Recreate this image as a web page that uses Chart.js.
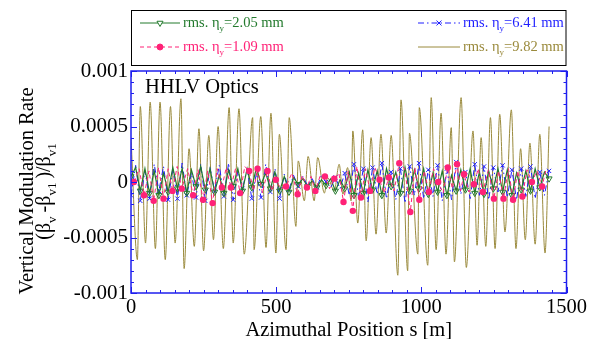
<!DOCTYPE html>
<html>
<head>
<meta charset="utf-8">
<script src="https://cdn.jsdelivr.net/npm/chart.js@4/dist/chart.umd.min.js"></script>
<style>
  html, body { margin: 0; padding: 0; background: #fff; }
  #wrap { width: 589px; height: 339px; }
</style>
</head>
<body>
<div id="wrap"><canvas id="chart" width="589" height="339"></canvas></div>
<script>
// values (s in m, modulation rate dimensionless)

// rms eta_y = 9.82 mm (olive)
const S_OLIVE = [
  0, 22, 32, 50, 66, 84, 100, 118, 136, 152, 172, 183, 200, 218, 234, 250, 268, 284, 300, 318,
  338, 352, 372, 390, 419, 424, 447, 465, 482, 499, 511, 534, 545, 568, 576, 597, 610, 631, 643, 666,
  677, 700, 717, 730, 746, 758, 764, 781, 798, 810, 827, 844, 861, 879, 896, 919, 930, 953, 959, 988,
  993, 1022, 1034, 1051, 1068, 1085, 1103, 1114, 1137, 1155, 1178, 1192, 1206, 1222, 1238, 1254, 1270, 1288, 1310, 1326,
  1342, 1358, 1374, 1392, 1408, 1426, 1440
];
const V_OLIVE = [
  0.0004, -0.0007, 0.00068, -0.00055, 0.00072, -0.0006, 0.00072, -0.0007, 0.00068, -0.00055, 0.00075, -0.00078, 0.0003, -0.00058, 0.00048, -0.00062, 0.00042, -0.00052, 0.0005, -0.0006,
  0.00067, -0.00055, 0.00066, -0.00065, 0.00058, -0.00061, 0.00059, -0.00059, 0.00062, -0.00064, 0.00043, -0.00061, 0.00058, -0.0004, 0.00019, -0.00017, 0.00023, -0.00017, 0.00022, -0.0001,
  0.00004, -0.00008, 0.00016, -0.00011, 0.00013, -0.00017, 0.00046, -0.00037, 0.00047, -0.00053, 0.0004, -0.00047, 0.00043, -0.00046, 0.00042, -0.00084, 0.00074, -0.0008, 0.00044, -0.00065,
  0.00067, -0.00075, 0.00076, -0.00061, 0.00062, -0.00065, 0.00049, -0.00072, 0.00076, -0.00077, 0.00046, -0.00057, 0.0004, -0.00058, 0.00058, -0.0006, 0.00061, -0.00045, 0.00065, -0.0006,
  0.0003, -0.00052, 0.00035, -0.00056, 0.00043, -0.00064, 0.0005
];

// rms eta_y = 1.09 mm (pink), markers on every other point
const S_PINK = [
  10, 28, 45, 62, 78, 95, 112, 128, 143, 159, 175, 195, 214, 231, 248, 264, 281, 297, 313, 328,
  344, 360, 376, 392, 407, 422, 436, 453, 470, 485, 499, 516, 534, 554, 574, 590, 606, 620, 635, 652,
  668, 684, 700, 716, 732, 748, 764, 778, 792, 808, 823, 840, 856, 872, 888, 906, 924, 943, 962, 978,
  993, 1010, 1026, 1042, 1058, 1075, 1091, 1107, 1123, 1135, 1147, 1164, 1181, 1196, 1212, 1231, 1250, 1266, 1283, 1300,
  1316, 1332, 1348, 1364, 1381, 1398, 1416, 1430
];
const V_PINK = [
  0, 0.00012, -0.00012, 0.0001, -0.00017, 0.00013, -0.00015, 0.00012, -0.00008, 0.00014, -0.00006, 0.00012, -0.00012, 0.00011, -0.00016, 0.0001, -0.00019, 0.00012, -0.00005, 0.00013,
  -0.00005, 0.00012, -0.0001, 0.00014, 0.0001, -0.00008, 0.00012, -0.0001, 0.0001, -0.00008, 0.00002, -0.00006, -0.00004, 0.00008, -0.00011, 0.00006, -0.00005, 0.00005, -0.00008, 0.00006,
  0.00005, -0.00006, 0.00003, 0.00008, -0.00018, 0.0001, -0.00026, 0.00014, -0.00014, 0.00012, -0.00008, 0.00013, 0.00002, -0.0001, 0.00004, -0.00008, 0.00017, 0.00012, -0.00027, 0.00013,
  -0.00016, 0.0001, -0.00009, 0.00012, 0, -0.0001, 0.00013, -0.00006, 0.00016, -0.00008, 0.00007, -0.00009, -0.00002, 0.00012, -0.00009, 0.00011, -0.00015, 0.0001, -0.00015, 0.00012,
  -0.00016, 0.0001, -0.00013, 0.00011, 0, 0.0001, -0.00004, 0.00012
];

// shared positions for the 2.05 mm and 6.41 mm runs
const S_SMALL = [
  0, 16, 32, 48, 64, 80, 96, 112, 128, 144, 160, 176, 192, 208, 224, 240, 256, 272, 288, 304,
  320, 336, 352, 368, 384, 400, 416, 432, 448, 464, 480, 496, 512, 528, 544, 560, 576, 592, 608, 624,
  640, 656, 672, 688, 704, 720, 736, 752, 768, 784, 800, 816, 832, 848, 864, 880, 896, 912, 928, 944,
  960, 976, 992, 1008, 1024, 1040, 1056, 1072, 1088, 1104, 1120, 1136, 1152, 1168, 1184, 1200, 1216, 1232, 1248, 1264,
  1280, 1296, 1312, 1328, 1344, 1360, 1376, 1392, 1408, 1424, 1440
];
// rms eta_y = 2.05 mm (green)
const V_GREEN = [
  0.00005, 0.00013, -0.00008, 0.00012, -0.0001, 0.0001, -0.00012, 0.00008, -0.00009, 0.00013, -0.00006, 0.00012, -0.0001, 0.00011, -0.00004, 0.00014, -0.00007, 0.00012, -0.00009, 0.00006,
  -0.0001, 0.00011, -0.00004, 0.00012, -0.00008, 0.00012, -0.00005, 0.00013, -0.00002, 0.00008, -0.00006, 0.00009, -0.00008, 0.00005, -0.00009, 0.00004, -0.00002, 0.00003, -0.00004, 0.00001,
  -0.00005, 0.00002, -0.00003, 0.00003, -0.00008, 0.00002, -0.00006, 0.00009, -0.00012, 0.00008, -0.0001, 0.00011, -0.00007, 0.0001, -0.00012, 0.00012, -0.00004, 0.00009, -0.0001, 0.00013,
  -0.00008, 0.00011, -0.00006, 0.00012, -0.00011, 0.00008, -0.00009, 0.0001, -0.00012, 0.00006, -0.00008, 0.00011, -0.00007, 0.00012, -0.0001, 0.00009, -0.00011, 0.0001, -0.00006, 0.00012,
  -0.00009, 0.00011, -0.00012, 0.00008, -0.00007, 0.0001, -0.00008, 0.00012, -0.00005, 0.00009, 0.00003
];
// rms eta_y = 6.41 mm (blue)
const V_BLUE = [
  -0.00012, 0.00015, -0.00017, 0.0001, -0.00015, 0.00016, -0.00008, 0.00014, -0.00016, 0.00012, -0.00015, 0.00017, -0.00012, 0.00008, -0.00014, 0.00016, -0.00017, 0.00013, -0.00008, 0.00015,
  -0.00013, 0.00017, -0.00016, 0.0001, -0.00006, 0.00012, -0.00015, 0.00008, -0.00014, 0.00016, -0.00009, 0.00012, -0.00015, 0.00007, -0.00007, 0.00006, -0.00004, 0.00005, -0.00003, 0.00003,
  -0.00005, 0.00006, 0, -0.00005, 0.00004, -0.00006, 0.00008, -0.00012, 0.00016, -0.00014, 0.00012, -0.00018, 0.00013, -0.00011, 0.00017, -0.00015, 0.00009, -0.00016, 0.00012, -0.00019,
  0.00014, -0.00012, 0.00017, -0.00015, 0.00011, -0.00013, 0.00015, -0.00017, 0.00012, -0.00016, 0.00018, -0.00011, 0.00009, -0.00015, 0.00016, -0.00012, 0.00014, -0.00016, 0.00013, -0.00009,
  0.00015, -0.00014, 0.00011, -0.00016, 0.00012, -0.00013, 0.00014, -0.00015, 0.00009, -0.00012, 0.0001
];

const X_TICKS = [0, 500, 1000, 1500];
const Y_TICKS = [-0.001, -0.0005, 0, 0.0005, 0.001];
const LEGEND = [
  { eta: '2.05', color: '#237a2d' },
  { eta: '1.09', color: '#ff2277' },
  { eta: '6.41', color: '#1f1fff' },
  { eta: '9.82', color: '#9a8a3c' }
];

const SERIF = '"Liberation Serif", "Times New Roman", serif';
const FRAME = '#1f1fee';
const toXY = (xs, ys) => xs.map((x, i) => ({ x, y: ys[i] }));
const everyOther = r => c => (c.dataIndex % 2 === 0 ? r : 0);

const framePlugin = {
  id: 'frame',
  afterDatasetsDraw(chart) {
    const { ctx, chartArea: a, scales: { x, y } } = chart;
    ctx.save();
    ctx.strokeStyle = FRAME;
    ctx.lineWidth = 1;
    ctx.beginPath();
    for (let v = 0; v <= 1500; v += 50) {
      const px = Math.round(x.getPixelForValue(v)) + 0.5;
      const len = v % 500 === 0 ? 6 : 3;
      ctx.moveTo(px, a.bottom); ctx.lineTo(px, a.bottom - len);
      ctx.moveTo(px, a.top); ctx.lineTo(px, a.top + len);
    }
    for (let i = -10; i <= 10; i++) {
      const py = Math.round(y.getPixelForValue(i * 0.0001)) + 0.5;
      const len = i % 5 === 0 ? 6 : 3;
      ctx.moveTo(a.left, py); ctx.lineTo(a.left + len, py);
      ctx.moveTo(a.right, py); ctx.lineTo(a.right - len, py);
    }
    ctx.stroke();
    ctx.lineWidth = 1.5;
    ctx.strokeRect(a.left, a.top, a.right - a.left, a.bottom - a.top);

    ctx.fillStyle = '#000';
    ctx.font = '20.5px ' + SERIF;
    ctx.textBaseline = 'alphabetic';
    ctx.fillText('HHLV Optics', 145, 93);
    ctx.restore();
  }
};

// pieces: [text, isSub, gapAfter]
function drawPieces(ctx, pieces, x, y, size, subScale) {
  let cx = x;
  for (const [t, sub, gap] of pieces) {
    ctx.font = (sub ? size * subScale : size) + 'px ' + SERIF;
    ctx.fillText(t, cx, sub ? y + size * 0.3 : y);
    cx += ctx.measureText(t).width + (gap || 0);
  }
  return cx - x;
}
function measurePieces(ctx, pieces, size, subScale) {
  let w = 0;
  for (const [t, sub, gap] of pieces) {
    ctx.font = (sub ? size * subScale : size) + 'px ' + SERIF;
    w += ctx.measureText(t).width + (gap || 0);
  }
  return w;
}

const decorPlugin = {
  id: 'decor',
  afterDraw(chart) {
    const { ctx, chartArea: a } = chart;
    ctx.save();
    // legend box
    ctx.strokeStyle = '#000';
    ctx.lineWidth = 1;
    ctx.strokeRect(a.left + 0.5, 10.5, a.right - a.left - 1, 55);

    const rows = [
      { item: LEGEND[0], x0: 140, x1: 180, tx: 183, y: 27, dash: [], pt: { pointStyle: 'triangle', rotation: 180, radius: 3.5, borderWidth: 1 }, fill: false },
      { item: LEGEND[1], x0: 140, x1: 180, tx: 183, y: 51, dash: [4, 3], pt: { pointStyle: 'circle', rotation: 0, radius: 3, borderWidth: 1 }, fill: true },
      { item: LEGEND[2], x0: 418, x1: 460, tx: 463, y: 27, dash: [6, 3, 1.5, 3], pt: { pointStyle: 'crossRot', rotation: 0, radius: 3.5, borderWidth: 1 }, fill: false },
      { item: LEGEND[3], x0: 418, x1: 460, tx: 463, y: 51, dash: [], pt: null, fill: false }
    ];
    for (const r of rows) {
      const ly = r.y - 4;
      ctx.strokeStyle = r.item.color;
      ctx.fillStyle = r.item.color;
      ctx.lineWidth = 1;
      ctx.setLineDash(r.dash);
      ctx.beginPath();
      ctx.moveTo(r.x0, ly); ctx.lineTo(r.x1, ly);
      ctx.stroke();
      ctx.setLineDash([]);
      if (r.pt) {
        ctx.fillStyle = r.fill ? r.item.color : '#fff';
        Chart.helpers.drawPoint(ctx, r.pt, (r.x0 + r.x1) / 2, ly);
      }
      ctx.fillStyle = r.item.color;
      ctx.textBaseline = 'alphabetic';
      drawPieces(ctx, [['rms. \u03b7', false], ['y', true], ['=' + r.item.eta + ' mm', false]], r.tx, r.y, 14.5, 0.62);
    }

    // y axis title, two rotated lines
    ctx.fillStyle = '#000';
    ctx.textBaseline = 'alphabetic';
    const line1 = [['Vertical Modulation Rate', false]];
    const line2 = [['(\u03b2', false], ['v', true, 4], ['-\u03b2', false], ['v1', true, 4], [')/\u03b2', false], ['v1', true]];
    const titleRows = [[line1, 33, 191, 20.5], [line2, 50, 191.5, 20]];
    for (const [pieces, bx, cy, size] of titleRows) {
      ctx.save();
      ctx.translate(bx, cy);
      ctx.rotate(-Math.PI / 2);
      const w = measurePieces(ctx, pieces, size, 0.65);
      drawPieces(ctx, pieces, -w / 2, 0, size, 0.65);
      ctx.restore();
    }
    ctx.restore();
  }
};

Chart.defaults.font.family = SERIF;

new Chart(document.getElementById('chart'), {
  type: 'line',
  data: {
    datasets: [
      {
        label: 'rms. eta_y=1.09 mm', data: toXY(S_PINK, V_PINK), order: 1,
        borderColor: LEGEND[1].color, backgroundColor: LEGEND[1].color, borderWidth: 1, borderDash: [4, 3],
        pointStyle: 'circle', pointRadius: everyOther(3.2), pointBorderWidth: 0, tension: 0
      },
      {
        label: 'rms. eta_y=2.05 mm', data: toXY(S_SMALL, V_GREEN), order: 2,
        borderColor: LEGEND[0].color, backgroundColor: 'rgba(0,0,0,0)', borderWidth: 1.2,
        pointStyle: 'triangle', pointRotation: 180, pointRadius: everyOther(3.5), pointBorderWidth: 1, tension: 0
      },
      {
        label: 'rms. eta_y=6.41 mm', data: toXY(S_SMALL, V_BLUE), order: 3,
        borderColor: LEGEND[2].color, backgroundColor: LEGEND[2].color, borderWidth: 1, borderDash: [6, 3, 1.5, 3],
        pointStyle: 'crossRot', pointRadius: everyOther(3), pointBorderWidth: 1, tension: 0
      },
      {
        label: 'rms. eta_y=9.82 mm', data: toXY(S_OLIVE, V_OLIVE), order: 4,
        borderColor: LEGEND[3].color, borderWidth: 1, pointRadius: 0,
        cubicInterpolationMode: 'monotone'
      }
    ]
  },
  options: {
    responsive: false,
    animation: false,
    events: [],
    layout: { padding: { top: 71, right: 22, left: 0, bottom: 0 } },
    plugins: { legend: { display: false }, tooltip: { enabled: false } },
    scales: {
      x: {
        type: 'linear', min: 0, max: 1500,
        afterBuildTicks: s => { s.ticks = X_TICKS.map(v => ({ value: v })); },
        afterFit: s => { s.height = 46; },
        grid: { display: false, drawTicks: false, tickLength: 0 }, border: { display: false },
        ticks: { color: '#000', font: { size: 20.5 }, padding: 2, maxRotation: 0, callback: v => String(v) },
        title: { display: true, text: 'Azimuthal Position s [m]', color: '#000', font: { size: 20.5 }, padding: { top: 0, bottom: -4 } }
      },
      y: {
        min: -0.001, max: 0.001,
        afterBuildTicks: s => { s.ticks = Y_TICKS.map(v => ({ value: v })); },
        afterFit: s => { s.width = 131; },
        grid: { display: false, drawTicks: false, tickLength: 0 }, border: { display: false },
        ticks: { color: '#000', font: { size: 21 }, padding: 3, callback: v => String(Number(v.toFixed(4))) }
      }
    }
  },
  plugins: [framePlugin, decorPlugin]
});
</script>
</body>
</html>
